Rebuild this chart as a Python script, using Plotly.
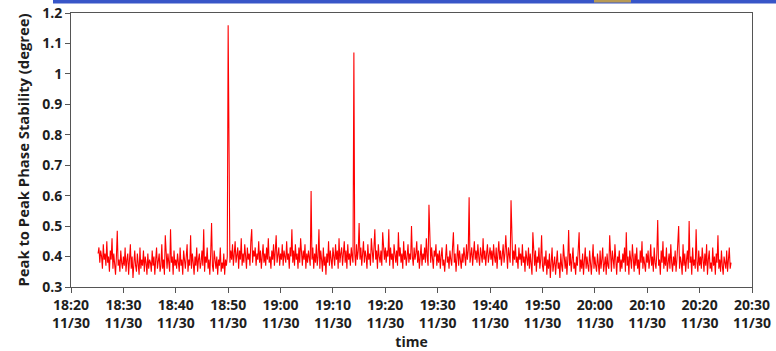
import pandas as pd
import plotly.graph_objects as go

# Peak-to-peak phase stability samples, one every 10 s starting at 18:25:10
start_time = "2023-11-30 18:25:10"
sample_step = "10s"
phase_p2p = [
    # 18:25 - 18:30
    0.41, 0.43, 0.38, 0.42, 0.40, 0.36, 0.44, 0.39, 0.41, 0.37, 0.45, 0.38, 0.40, 0.35, 0.42,
    0.39, 0.46, 0.36, 0.41, 0.38, 0.34, 0.40, 0.485, 0.37, 0.39, 0.35, 0.42, 0.38, 0.36, 0.40,
    # 18:30 - 18:35
    0.37, 0.43, 0.35, 0.39, 0.41, 0.34, 0.38, 0.44, 0.36, 0.40, 0.33, 0.39, 0.42, 0.37, 0.35,
    0.41, 0.38, 0.34, 0.43, 0.36, 0.39, 0.37, 0.42, 0.35, 0.40, 0.38, 0.34, 0.41, 0.36, 0.39,
    # 18:35 - 18:40
    0.38, 0.35, 0.42, 0.37, 0.40, 0.34, 0.39, 0.43, 0.36, 0.38, 0.41, 0.35, 0.37, 0.44, 0.36,
    0.39, 0.34, 0.47, 0.38, 0.36, 0.41, 0.37, 0.35, 0.49, 0.38, 0.40, 0.34, 0.42, 0.37, 0.39,
    # 18:40 - 18:45
    0.36, 0.41, 0.38, 0.35, 0.43, 0.37, 0.39, 0.34, 0.42, 0.38, 0.36, 0.40, 0.44, 0.35, 0.39,
    0.37, 0.47, 0.36, 0.41, 0.38, 0.34, 0.40, 0.37, 0.43, 0.35, 0.39, 0.41, 0.36, 0.38, 0.42,
    # 18:45 - 18:50
    0.37, 0.49, 0.35, 0.40, 0.38, 0.43, 0.36, 0.39, 0.34, 0.41, 0.51, 0.37, 0.35, 0.42, 0.38,
    0.36, 0.40, 0.34, 0.39, 0.37, 0.43, 0.35, 0.38, 0.36, 0.41, 0.34, 0.39, 0.37, 0.40, 1.16,
    # 18:50 - 18:55
    0.76, 0.38, 0.42, 0.39, 0.44, 0.37, 0.41, 0.45, 0.38, 0.40, 0.43, 0.36, 0.42, 0.39, 0.46,
    0.37, 0.41, 0.38, 0.44, 0.40, 0.36, 0.43, 0.39, 0.41, 0.37, 0.45, 0.49, 0.38, 0.42, 0.40,
    # 18:55 - 19:00
    0.43, 0.37, 0.41, 0.39, 0.45, 0.38, 0.42, 0.36, 0.40, 0.44, 0.38, 0.41, 0.37, 0.43, 0.39,
    0.46, 0.38, 0.40, 0.36, 0.42, 0.39, 0.44, 0.37, 0.41, 0.47, 0.38, 0.40, 0.43, 0.37, 0.41,
    # 19:00 - 19:05
    0.39, 0.44, 0.37, 0.42, 0.40, 0.38, 0.45, 0.39, 0.41, 0.36, 0.43, 0.40, 0.49, 0.38, 0.42,
    0.37, 0.44, 0.39, 0.41, 0.36, 0.43, 0.38, 0.46, 0.40, 0.37, 0.42, 0.39, 0.44, 0.36, 0.41,
    # 19:05 - 19:10
    0.38, 0.42, 0.40, 0.37, 0.615, 0.39, 0.43, 0.36, 0.41, 0.38, 0.44, 0.37, 0.40, 0.49, 0.36,
    0.42, 0.39, 0.35, 0.43, 0.37, 0.40, 0.34, 0.41, 0.38, 0.45, 0.37, 0.42, 0.39, 0.36, 0.43,
    # 19:10 - 19:15
    0.40, 0.37, 0.44, 0.39, 0.42, 0.36, 0.46, 0.38, 0.41, 0.43, 0.37, 0.40, 0.45, 0.38, 0.42,
    0.36, 0.44, 0.39, 0.41, 0.37, 0.43, 0.40, 0.38, 1.07, 0.41, 0.37, 0.44, 0.39, 0.42, 0.51,
    # 19:15 - 19:20
    0.39, 0.43, 0.37, 0.41, 0.45, 0.38, 0.42, 0.40, 0.36, 0.44, 0.39, 0.41, 0.37, 0.46, 0.40,
    0.38, 0.43, 0.49, 0.39, 0.42, 0.36, 0.44, 0.40, 0.38, 0.42, 0.37, 0.48, 0.41, 0.39, 0.43,
    # 19:20 - 19:25
    0.38, 0.42, 0.40, 0.49, 0.37, 0.43, 0.39, 0.41, 0.36, 0.44, 0.40, 0.38, 0.42, 0.37, 0.48,
    0.40, 0.43, 0.38, 0.41, 0.36, 0.45, 0.39, 0.42, 0.37, 0.40, 0.44, 0.38, 0.41, 0.39, 0.50,
    # 19:25 - 19:30
    0.40, 0.37, 0.43, 0.39, 0.41, 0.45, 0.38, 0.42, 0.36, 0.40, 0.44, 0.37, 0.41, 0.39, 0.43,
    0.38, 0.46, 0.40, 0.37, 0.57, 0.41, 0.38, 0.43, 0.39, 0.36, 0.42, 0.40, 0.44, 0.37, 0.41,
    # 19:30 - 19:35
    0.38, 0.42, 0.36, 0.40, 0.43, 0.37, 0.39, 0.35, 0.41, 0.44, 0.38, 0.40, 0.36, 0.42, 0.39,
    0.37, 0.43, 0.48, 0.38, 0.41, 0.35, 0.40, 0.44, 0.37, 0.42, 0.39, 0.36, 0.41, 0.38, 0.43,
    # 19:35 - 19:40
    0.40, 0.37, 0.44, 0.39, 0.42, 0.595, 0.38, 0.41, 0.43, 0.37, 0.40, 0.45, 0.39, 0.42, 0.38,
    0.44, 0.40, 0.37, 0.43, 0.41, 0.38, 0.46, 0.39, 0.42, 0.37, 0.41, 0.44, 0.38, 0.40, 0.43,
    # 19:40 - 19:45
    0.39, 0.42, 0.37, 0.44, 0.40, 0.38, 0.43, 0.36, 0.41, 0.45, 0.39, 0.42, 0.37, 0.40, 0.44,
    0.38, 0.41, 0.47, 0.39, 0.36, 0.43, 0.40, 0.38, 0.585, 0.41, 0.37, 0.42, 0.39, 0.44, 0.38,
    # 19:45 - 19:50
    0.40, 0.36, 0.43, 0.39, 0.41, 0.37, 0.44, 0.38, 0.40, 0.35, 0.42, 0.39, 0.37, 0.43, 0.36,
    0.41, 0.38, 0.34, 0.48, 0.39, 0.37, 0.42, 0.35, 0.40, 0.38, 0.43, 0.36, 0.39, 0.47, 0.37,
    # 19:50 - 19:55
    0.35, 0.40, 0.37, 0.42, 0.34, 0.39, 0.36, 0.41, 0.33, 0.38, 0.43, 0.35, 0.37, 0.40, 0.34,
    0.39, 0.42, 0.36, 0.38, 0.33, 0.41, 0.37, 0.35, 0.44, 0.38, 0.36, 0.40, 0.34, 0.39, 0.487,
    # 19:55 - 20:00
    0.37, 0.41, 0.35, 0.39, 0.43, 0.36, 0.38, 0.34, 0.40, 0.37, 0.42, 0.48, 0.35, 0.39, 0.36,
    0.41, 0.34, 0.38, 0.43, 0.36, 0.40, 0.37, 0.35, 0.42, 0.38, 0.34, 0.39, 0.44, 0.36, 0.40,
    # 20:00 - 20:05
    0.37, 0.35, 0.41, 0.38, 0.34, 0.42, 0.36, 0.39, 0.43, 0.35, 0.38, 0.40, 0.34, 0.41, 0.37,
    0.36, 0.47, 0.38, 0.35, 0.42, 0.39, 0.36, 0.44, 0.37, 0.34, 0.40, 0.38, 0.42, 0.35, 0.39,
    # 20:05 - 20:10
    0.36, 0.41, 0.38, 0.43, 0.35, 0.48, 0.37, 0.40, 0.34, 0.42, 0.38, 0.36, 0.44, 0.39, 0.35,
    0.41, 0.37, 0.43, 0.36, 0.39, 0.34, 0.42, 0.38, 0.45, 0.36, 0.40, 0.37, 0.35, 0.41, 0.38,
    # 20:10 - 20:15
    0.42, 0.36, 0.39, 0.44, 0.37, 0.40, 0.35, 0.43, 0.38, 0.36, 0.41, 0.52, 0.37, 0.39, 0.34,
    0.42, 0.38, 0.45, 0.36, 0.40, 0.37, 0.43, 0.35, 0.39, 0.41, 0.36, 0.44, 0.38, 0.35, 0.40,
    # 20:15 - 20:20
    0.37, 0.42, 0.35, 0.39, 0.43, 0.50, 0.36, 0.40, 0.38, 0.34, 0.44, 0.37, 0.41, 0.35, 0.39,
    0.42, 0.36, 0.517, 0.38, 0.40, 0.34, 0.43, 0.37, 0.39, 0.36, 0.49, 0.38, 0.35, 0.42, 0.37,
    # 20:20 - 20:25
    0.40, 0.36, 0.43, 0.38, 0.35, 0.41, 0.37, 0.44, 0.34, 0.39, 0.42, 0.36, 0.38, 0.35, 0.43,
    0.37, 0.40, 0.34, 0.41, 0.38, 0.47, 0.36, 0.39, 0.35, 0.42, 0.37, 0.34, 0.40, 0.38, 0.36,
    # 20:25 - 20:26
    0.42, 0.35, 0.39, 0.43, 0.36, 0.38,
]

# Axis ticks
x_tick_times = ["18:20", "18:30", "18:40", "18:50", "19:00", "19:10", "19:20",
                "19:30", "19:40", "19:50", "20:00", "20:10", "20:20", "20:30"]
x_tick_date = "11/30"
y_tick_values = [0.3, 0.4, 0.5, 0.6, 0.7, 0.8, 0.9, 1.0, 1.1, 1.2]

times = pd.date_range(start_time, periods=len(phase_p2p), freq=sample_step)
tick_vals = [pd.Timestamp(f"2023-11-30 {t}:00") for t in x_tick_times]
tick_text = [f"{t}<br>{x_tick_date}" for t in x_tick_times]

font_family = "Open Sans, DejaVu Sans, sans-serif"
text_color = "#1e1e1e"
axis_color = "#555555"

# plot area in pixels: left 71, right 752, top 13, bottom 287
W, H = 776, 351
L, R, T, B = 71, 24, 13, 64
pw, ph = W - L - R, H - T - B


def px_x(x):
    return (x - L) / pw


def px_y(y):
    return (H - B - y) / ph


fig = go.Figure()
fig.add_trace(go.Scatter(
    x=times,
    y=phase_p2p,
    mode="lines",
    line=dict(color="rgb(255,0,0)", width=1.1),
    showlegend=False,
))

fig.update_layout(
    width=W,
    height=H,
    margin=dict(l=L, r=R, t=T, b=B, autoexpand=False),
    paper_bgcolor="white",
    plot_bgcolor="white",
    font=dict(family=font_family, size=14, color=text_color),
    shapes=[
        # window title strip along the top edge
        dict(type="rect", xref="paper", yref="paper",
             x0=px_x(53), x1=px_x(776), y0=px_y(3.5), y1=px_y(0),
             line=dict(width=0), fillcolor="#3856c8", layer="above"),
        dict(type="rect", xref="paper", yref="paper",
             x0=px_x(594), x1=px_x(631), y0=px_y(2.5), y1=px_y(0),
             line=dict(width=0), fillcolor="#b89a55", layer="above"),
    ],
)

fig.update_xaxes(
    range=[tick_vals[0], tick_vals[-1]],
    automargin=False,
    tickvals=tick_vals,
    ticktext=tick_text,
    tickfont=dict(family=font_family, size=14, color=text_color, weight=700),
    ticks="outside",
    ticklen=5,
    tickcolor=axis_color,
    showgrid=False,
    zeroline=False,
    showline=True,
    linecolor=axis_color,
    linewidth=1,
    mirror=True,
    title=dict(text="time", font=dict(family=font_family, size=14, color=text_color, weight=700),
               standoff=2),
)

fig.update_yaxes(
    range=[0.3, 1.2],
    automargin=False,
    tickvals=y_tick_values,
    tickfont=dict(family=font_family, size=14, color=text_color, weight=700),
    ticks="outside",
    ticklen=5,
    tickcolor=axis_color,
    showgrid=False,
    zeroline=False,
    showline=True,
    linecolor=axis_color,
    linewidth=1,
    mirror=True,
    title=dict(text="Peak to Peak Phase Stability (degree)",
               font=dict(family=font_family, size=14.8, color=text_color, weight=700),
               standoff=9),
)

fig.write_html("out.html")
